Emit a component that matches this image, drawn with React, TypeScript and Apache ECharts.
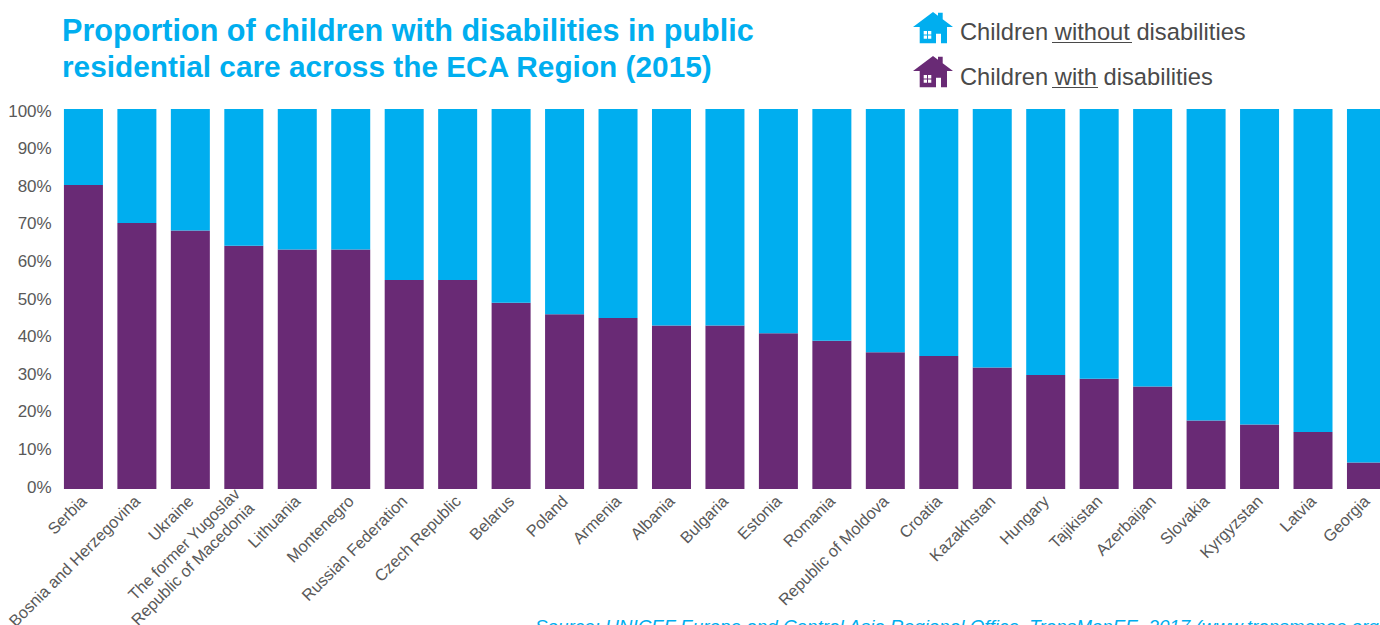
import React, { useEffect, useRef } from "react";
import * as echarts from "echarts";

const countries = [
  "Serbia", "Bosnia and Herzegovina", "Ukraine", "The former Yugoslav\nRepublic of Macedonia",
  "Lithuania", "Montenegro", "Russian Federation", "Czech Republic", "Belarus", "Poland",
  "Armenia", "Albania", "Bulgaria", "Estonia", "Romania", "Republic of Moldova", "Croatia",
  "Kazakhstan", "Hungary", "Tajikistan", "Azerbaijan", "Slovakia", "Kyrgyzstan", "Latvia", "Georgia",
];
const withDisabilities = [80, 70, 68, 64, 63, 63, 55, 55, 49, 46, 45, 43, 43, 41, 39, 36, 35, 32, 30, 29, 27, 18, 17, 15, 7];
const withoutDisabilities = [20, 30, 32, 36, 37, 37, 45, 45, 51, 54, 55, 57, 57, 59, 61, 64, 65, 68, 70, 71, 73, 82, 83, 85, 93];

const BLUE = "#00AEEF";
const PURPLE = "#692A75";
const UI_FONT = "'Liberation Sans', Arial, sans-serif";

// House outline with a door notch and four window panes wound the other way
const HOUSE_PATH =
  "M0 15L20 0L25 3.7L25 0.7L29.7 0.7L29.7 7.3L40 15L34 15L34 31.3L28 31.3L28 21.7L23 21.7L23 31.3L6.7 31.3L6.7 15Z" +
  "M10.7 19L10.7 22.4L14 22.4L14 19Z M15 19L15 22.4L18.3 22.4L18.3 19Z" +
  "M10.7 23.4L10.7 26.8L14 26.8L14 23.4Z M15 23.4L15 26.8L18.3 26.8L18.3 23.4Z";
echarts.graphic.registerShape("house", echarts.graphic.extendPath(HOUSE_PATH, {}) as any);

const legendText = (x: number, y: number, text: string) => ({
  type: "text", x, y,
  style: { text, font: `300 23.7px ${UI_FONT}`, fill: "#4a4a4a", textVerticalAlign: "middle" },
});
const underline = (x1: number, x2: number, y: number) => ({
  type: "line", shape: { x1, y1: y, x2, y2: y }, style: { stroke: "#4a4a4a", lineWidth: 1 },
});
const titleLine = (text: string, top: number, fontSize: number) => ({
  text, left: 57, top,
  textStyle: { color: BLUE, fontFamily: UI_FONT, fontWeight: "bold", fontSize },
});

export default function App() {
  const ref = useRef<HTMLDivElement>(null);

  useEffect(() => {
    const chart = echarts.init(ref.current!, null, { renderer: "svg" });
    chart.setOption({
      animation: false,
      backgroundColor: "#fff",
      title: [
        titleLine("Proportion of children with disabilities in public", 9, 30.6),
        titleLine("residential care across the ECA Region (2015)", 46, 29.8),
      ],
      // The second grid only carries the percentage scale, set slightly inside the bars
      grid: [
        { left: 56.7, top: 109, width: 1336.5, height: 380, outerBoundsMode: "none" },
        { left: 56.7, top: 111, width: 1336.5, height: 376, outerBoundsMode: "none" },
      ],
      xAxis: [
        {
          type: "category",
          data: countries,
          axisLine: { show: false },
          axisTick: { show: false },
          axisLabel: {
            interval: 0, rotate: 45, margin: 9,
            color: "#595959", fontFamily: UI_FONT, fontSize: 16.3, lineHeight: 20,
          },
        },
        { type: "value", gridIndex: 1, show: false, min: 0, max: 1 },
      ],
      yAxis: [
        {
          type: "value", min: 0, max: 100, interval: 10,
          axisLabel: { show: false },
          splitLine: { show: false },
          axisLine: { show: false },
          axisTick: { show: false },
        },
        {
          type: "value", gridIndex: 1, min: 0, max: 100, interval: 10,
          splitLine: { show: false },
          axisLine: { show: false },
          axisTick: { show: false },
          axisLabel: {
            formatter: "{value}%", margin: 5,
            color: "#595959", fontFamily: UI_FONT, fontSize: 17,
          },
        },
      ],
      series: [
        { name: "Children with disabilities", type: "bar", stack: "share", barWidth: 39,
          data: withDisabilities, itemStyle: { color: PURPLE } },
        { name: "Children without disabilities", type: "bar", stack: "share", barWidth: 39,
          data: withoutDisabilities, itemStyle: { color: BLUE } },
      ],
      graphic: [
        { type: "house", x: 913, y: 12, style: { fill: BLUE } },
        { type: "house", x: 913, y: 56, style: { fill: PURPLE } },
        legendText(960, 32, "Children without disabilities"),
        underline(1052, 1132, 42.5),
        legendText(960, 77, "Children with disabilities"),
        underline(1052, 1098, 87.5),
        {
          type: "text", x: 535, y: 617,
          style: {
            text: "Source: UNICEF Europe and Central Asia Regional Office, TransMonEE, 2017 (www.transmonee.org",
            font: `italic 300 18.85px ${UI_FONT}`, fill: BLUE,
          },
        },
      ],
    });
    return () => chart.dispose();
  }, []);

  return (
    <div style={{ position: "fixed", left: 0, top: 0, width: 1380, height: 625, overflow: "hidden", background: "#fff" }}>
      <div ref={ref} style={{ width: 1400, height: 625 }} />
    </div>
  );
}
